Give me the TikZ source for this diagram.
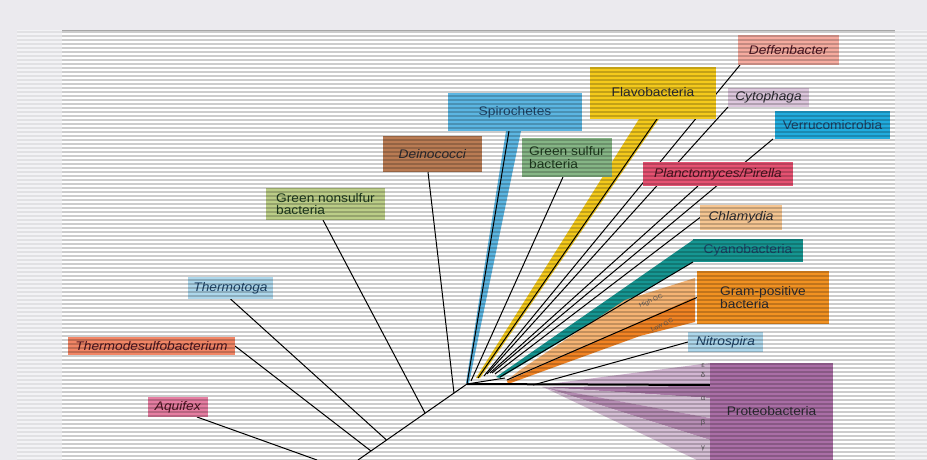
\documentclass[tikz,border=0pt]{standalone}
\usepackage{fontspec}
\setmainfont[FakeStretch=1.1]{Liberation Sans}
\pgfdeclarelayer{bg}
\pgfdeclarelayer{lines}
\pgfdeclarelayer{fg}
\pgfsetlayers{bg,lines,main,fg}
\definecolor{bgc}{HTML}{EBEAEE}
\definecolor{sidec}{HTML}{F3F3F5}
\definecolor{txt}{HTML}{2A2A30}
\definecolor{cDef}{HTML}{F6ACA0}
\definecolor{cFlav}{HTML}{F4CA1C}
\definecolor{cCyt}{HTML}{DEC8DE}
\definecolor{cVer}{HTML}{22ACDE}
\definecolor{cSpi}{HTML}{5CB6E2}
\definecolor{cDei}{HTML}{BA7C54}
\definecolor{cGS}{HTML}{86B686}
\definecolor{cPla}{HTML}{E65272}
\definecolor{cGNS}{HTML}{BCCE88}
\definecolor{cChl}{HTML}{F6C692}
\definecolor{cCya}{HTML}{169692}
\definecolor{cGP}{HTML}{F29222}
\definecolor{cHGC}{HTML}{F6B474}
\definecolor{cLGC}{HTML}{F28424}
\definecolor{cNit}{HTML}{AED8EC}
\definecolor{cPro}{HTML}{AA6EA6}
\definecolor{cPa}{HTML}{D2B6D2}
\definecolor{cPb}{HTML}{AA7AA8}
\definecolor{cPc}{HTML}{D6C0D6}
\definecolor{cTmt}{HTML}{AED8EC}
\definecolor{cTds}{HTML}{F28666}
\definecolor{cAqu}{HTML}{E67EA2}
\definecolor{tBlue}{HTML}{1E4468}
\definecolor{tRed}{HTML}{4A1420}
\definecolor{tGreen}{HTML}{1E3A1E}
\newcommand\boxfont{\fontsize{12.5}{12.5}\selectfont}
\begin{document}
\begin{tikzpicture}[x=1pt,y=-1pt,
  box/.style={inner sep=0pt,outer sep=0pt,font=\boxfont,text=txt},
  br/.style={draw=black,line width=1pt},
  stripe/.style={draw=black,opacity=0.2,line width=1.5pt},
  stripel/.style={draw=black,opacity=0.07,line width=1.5pt},
  tiny/.style={inner sep=0pt,font=\fontsize{6}{6}\selectfont,text=black!65},
  greek/.style={inner sep=0pt,font=\fontsize{7}{7}\selectfont,text=black!65}]
\useasboundingbox (0,0) rectangle (927,460);
\begin{pgfonlayer}{bg}
  \fill[bgc] (0,0) rectangle (927,460);
  \fill[white] (62,30) rectangle (895,460);
  \fill[sidec] (17,30) rectangle (62,460);
  \fill[sidec] (895,30) rectangle (927,460);
  % wedges
  \fill[cSpi] (506,131) -- (521,131) -- (469,383) -- (466,383) -- cycle;
  \fill[cFlav] (639,119) -- (659,119) -- (480,378) -- (476,378) -- cycle;
  \fill[cCya] (693,240) -- (693,262) -- (500,378) -- (496,377) -- cycle;
  \fill[cHGC] (695,278) -- (695,298) -- (506,381) -- (520,370) -- (625,300) -- cycle;
  \fill[cLGC] (695,297) -- (695,322) -- (640,336) -- (508,384) -- (507,381) -- cycle;
  \fill[cPa] (541,385) -- (710,363) -- (710,384) -- cycle;
  \fill[cPb] (542,387) -- (710,386) -- (710,398) -- cycle;
  \fill[cPc] (542,387) -- (710,398) -- (710,418) -- cycle;
  \fill[cPb!85] (543,387) -- (710,418) -- (710,440) -- cycle;
  \fill[cPc] (543,387) -- (710,440) -- (710,460) -- (697,460) -- cycle;
\end{pgfonlayer}

% boxes
\node[box,fill=cDef,minimum width=101pt,minimum height=30pt,text=tRed] (def) at (788.5,50) {\textit{Deffenbacter}};
\node[box,fill=cFlav,minimum width=126pt,minimum height=52pt] (flav) at (653,93) {\raisebox{2pt}{Flavobacteria}};
\node[box,fill=cCyt,minimum width=81pt,minimum height=19pt] (cyt) at (768.5,97.5) {\textit{Cytophaga}};
\node[box,fill=cVer,minimum width=115pt,minimum height=28pt,text=tBlue] (ver) at (832.5,125) {Verrucomicrobia};
\node[box,fill=cSpi,minimum width=134pt,minimum height=38pt,text=tBlue] (spi) at (515,112) {\raisebox{-4pt}{Spirochetes}};
\node[box,fill=cDei,minimum width=99pt,minimum height=36pt] (dei) at (432.5,154) {\textit{Deinococci}};
\node[box,fill=cGS,minimum width=90pt,minimum height=39pt,align=left,text=tGreen] (gs) at (567,157.5) {Green sulfur\\bacteria};
\node[box,fill=cGNS,minimum width=119pt,minimum height=32pt,align=left,text=tGreen] (gns) at (325.5,204) {Green nonsulfur\\bacteria};
\node[box,fill=cPla,minimum width=150pt,minimum height=24pt,text=tRed] (pla) at (718,174) {\textit{Planctomyces/Pirella}};
\node[box,fill=cChl,minimum width=82pt,minimum height=25pt] (chl) at (741,217.5) {\textit{Chlamydia}};
\node[box,fill=cCya,minimum width=110pt,minimum height=23pt,text=tBlue] (cya) at (748,250.5) {Cyanobacteria};
\node[box,fill=cGP,minimum width=132pt,minimum height=53pt,align=left] (gp) at (763,297.5) {Gram-positive\\bacteria};
\node[box,fill=cNit,minimum width=75pt,minimum height=20pt,text=tBlue] (nit) at (725.5,342) {\textit{Nitrospira}};
\node[box,fill=cPro,minimum width=123pt,minimum height=97pt] (pro) at (771.5,411.5) {Proteobacteria};
\node[box,fill=cTmt,minimum width=85pt,minimum height=22pt,text=tBlue] (tmt) at (230.5,288) {\textit{Thermotoga}};
\node[box,fill=cTds,minimum width=167pt,minimum height=18pt,text=tRed] (tds) at (151.5,346) {\textit{Thermodesulfobacterium}};
\node[box,fill=cAqu,minimum width=60pt,minimum height=20pt,text=tRed] (aqu) at (178,407) {\textit{Aquifex}};

% small labels
\node[tiny,rotate=24] (hgc) at (651,301) {High GC};
\node[tiny,rotate=24] (lgc) at (662,325) {Low GC};
\node[greek] (eps) at (703,366) {ε};
\node[greek] (del) at (703,375) {δ};
\node[greek] (alp) at (703,399) {α};
\node[greek] (bet) at (703,423) {β};
\node[greek] (gam) at (703,448) {γ};

% tree coordinates
\coordinate (R) at (467,384);
\coordinate (TB) at (358,460);
\coordinate (AqE) at (317,460);
\coordinate (J1) at (371,451);
\coordinate (J2) at (386.5,440);
\coordinate (J3) at (425,413);
\coordinate (J4) at (454,393);
\coordinate (cGSe) at (471,381);
\coordinate (cFle) at (478,378);
\coordinate (cDe) at (484,376);
\coordinate (cCye) at (487,374);
\coordinate (cPle) at (490,373);
\coordinate (cVe) at (492,373);
\coordinate (cChe) at (495,374);
\coordinate (cCyae) at (500,377);
\coordinate (cHe) at (507,380);
\coordinate (N) at (505,378);
\coordinate (cNe) at (533,385);
\coordinate (PE) at (710,385);

\begin{pgfonlayer}{lines}
  \draw[br] (TB) -- (R);
  \draw[br] (R) -- (N);
  \draw[br,line width=2pt] (R) -- (PE);
  \draw[br] ([xshift=19pt]aqu.south) -- (AqE);
  \draw[br] (tds.east) -- (J1);
  \draw[br] (tmt.south) -- (J2);
  \draw[br] ([xshift=-2.5pt]gns.south) -- (J3);
  \draw[br] ([xshift=-4.5pt]dei.south) -- (J4);
  \draw[br] ([xshift=-6pt]spi.south) -- (R);
  \draw[br] ([xshift=-4pt]gs.south) -- (cGSe);
  \draw[br] ([xshift=4pt]flav.south) -- (cFle);
  \draw[br] ([xshift=2pt]def.south west) -- (cDe);
  \draw[br] (cyt.south west) -- (cCye);
  \draw[br] ([xshift=-20pt]pla.south) -- (cPle);
  \draw[br] ([xshift=-2pt]ver.south west) -- (cVe);
  \draw[br] (chl.west) -- (cChe);
  \draw[br] (cya.south west) -- (cCyae);
  \draw[br] (gp.west) -- (cHe);
  \draw[br] (nit.west) -- (cNe);
\end{pgfonlayer}

\begin{pgfonlayer}{fg}
  \foreach \yy in {32,36,...,460} {
    \draw[stripe] (62,\yy) -- (895,\yy);
    \draw[stripel] (17,\yy) -- (62,\yy);
    \draw[stripel] (895,\yy) -- (927,\yy);
  }
  \draw[draw=black,opacity=0.35,line width=1.2pt] (62,30.5) -- (895,30.5);
\end{pgfonlayer}
\end{tikzpicture}
\end{document}
